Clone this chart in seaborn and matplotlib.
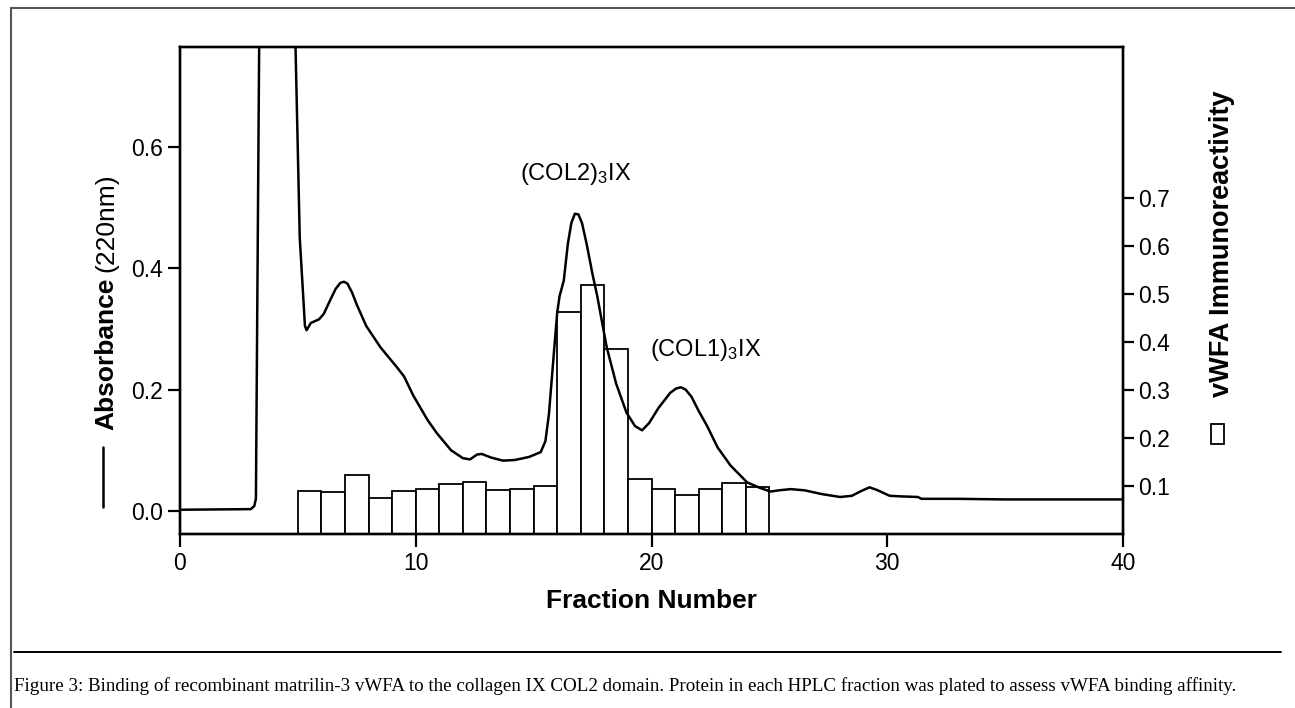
import matplotlib
matplotlib.use("Agg")
import matplotlib.pyplot as plt
import numpy as np
import pandas as pd
import seaborn as sns
from matplotlib.lines import Line2D
from matplotlib.patches import Rectangle

# Absorbance trace (220 nm) against fraction number; the void peak runs off scale
curve_fraction = [0.0, 3.0, 3.15, 3.22, 3.36, 3.45, 4.1, 4.8, 4.9, 5.08, 5.3,
                  5.37, 5.55, 5.9, 6.1, 6.4, 6.6, 6.8, 6.95, 7.1, 7.3, 7.5,
                  7.9, 8.5, 9.2, 9.5, 9.9, 10.5, 10.9, 11.5, 12.0, 12.3, 12.6,
                  12.8, 13.2, 13.7, 14.2, 14.8, 15.3, 15.5, 15.65, 15.9, 16.0,
                  16.1, 16.28, 16.45, 16.6, 16.75, 16.9, 17.05, 17.25, 17.5,
                  17.7, 18.1, 18.5, 18.94, 19.3, 19.6, 19.9, 20.3, 20.8, 21.05,
                  21.25, 21.45, 21.7, 22.0, 22.36, 22.8, 23.35, 24.06, 24.6,
                  25.05, 25.4, 25.9, 26.5, 27.2, 28.0, 28.5, 28.9, 29.25, 29.6,
                  30.1, 30.6, 31.3, 31.45, 33.0, 35.0, 40.0]
absorbance = [0.002, 0.003, 0.008, 0.02, 0.78, 0.95, 1.25, 0.95, 0.765, 0.45,
              0.305, 0.298, 0.31, 0.316, 0.325, 0.35, 0.366, 0.376, 0.378,
              0.375, 0.36, 0.34, 0.305, 0.27, 0.237, 0.222, 0.19, 0.15, 0.128,
              0.1, 0.087, 0.085, 0.093, 0.094, 0.088, 0.083, 0.084, 0.089,
              0.097, 0.115, 0.16, 0.28, 0.327, 0.354, 0.38, 0.44, 0.475,
              0.49, 0.489, 0.475, 0.44, 0.39, 0.354, 0.27, 0.21, 0.162, 0.14,
              0.133, 0.145, 0.17, 0.195, 0.202, 0.204, 0.2, 0.188, 0.165,
              0.14, 0.105, 0.075, 0.047, 0.038, 0.032, 0.034, 0.036, 0.034,
              0.028, 0.023, 0.025, 0.033, 0.039, 0.034, 0.025, 0.024, 0.023,
              0.02, 0.02, 0.019, 0.019]

# vWFA immunoreactivity of each plated HPLC fraction (bar centres)
bar_fraction = [5.5, 6.5, 7.5, 8.5, 9.5, 10.5, 11.5, 12.5, 13.5, 14.5,
                15.5, 16.5, 17.5, 18.5, 19.5, 20.5, 21.5, 22.5, 23.5, 24.5]
vwfa = [0.090, 0.087, 0.124, 0.075, 0.090, 0.093, 0.104, 0.108, 0.092, 0.093,
        0.100, 0.462, 0.519, 0.385, 0.115, 0.093, 0.081, 0.094, 0.106, 0.097]

x_ticks = [0, 10, 20, 30, 40]
left_ticks = [0.0, 0.2, 0.4, 0.6]
right_ticks = [0.1, 0.2, 0.3, 0.4, 0.5, 0.6, 0.7]

caption = ("Figure 3: Binding of recombinant matrilin-3 vWFA to the collagen IX "
           "COL2 domain. Protein in each HPLC fraction was plated to assess "
           "vWFA binding affinity.")

sns.set_style("ticks")
plt.rcParams["font.family"] = ["Liberation Sans", "DejaVu Sans"]
plt.rcParams["mathtext.fontset"] = "custom"
plt.rcParams["mathtext.rm"] = "Liberation Sans"
plt.rcParams["mathtext.it"] = "Liberation Sans:italic"
plt.rcParams["mathtext.bf"] = "Liberation Sans:bold"
for key in ("text.color", "axes.labelcolor", "xtick.color", "ytick.color",
            "axes.edgecolor"):
    plt.rcParams[key] = "black"

W, H = 1295, 708
fig = plt.figure(figsize=(W / 100, H / 100), dpi=100)
fig.patch.set_facecolor("white")

ax = fig.add_axes([180 / W, 1 - 534 / H, 943 / W, 487 / H])
ax2 = ax.twinx()

# bars on the right-hand axis
bars_df = pd.DataFrame({"fraction": bar_fraction, "vwfa": vwfa})
sns.barplot(data=bars_df, x="fraction", y="vwfa", native_scale=True, width=1,
            color="white", saturation=1, edgecolor="black", linewidth=1.3,
            errorbar=None, ax=ax2)

# absorbance curve on the left-hand axis, drawn above the bars
curve_df = pd.DataFrame({"fraction": curve_fraction, "absorbance": absorbance})
sns.lineplot(data=curve_df, x="fraction", y="absorbance", estimator=None,
             sort=False, color="black", linewidth=1.8, ax=ax)
ax.set_zorder(ax2.get_zorder() + 1)
ax.patch.set_visible(False)

ax.set_xlim(0, 40)
ax.set_ylim(-0.038, 0.765)
ax2.set_ylim(0, 1.015)
ax.set_xticks(x_ticks)
ax.set_xticklabels([str(t) for t in x_ticks])
ax.set_yticks(left_ticks)
ax.set_yticklabels([f"{t:.1f}" for t in left_ticks])
ax2.set_yticks(right_ticks)
ax2.set_yticklabels([f"{t:.1f}" for t in right_ticks])
for a in (ax, ax2):
    a.set_xlabel("")
    a.set_ylabel("")
    for s in a.spines.values():
        s.set_visible(True)
        s.set_linewidth(1.7)
        s.set_color("black")
ax.tick_params(axis="both", direction="out", length=9, width=1.6,
               labelsize=16.5, colors="black", pad=3)
ax.tick_params(axis="x", pad=4)
ax2.tick_params(axis="y", direction="out", length=8, width=1.6,
                labelsize=16.5, colors="black", pad=3)

# peak annotations
ax.text(16.8, 0.546, r"(COL2)$_3$IX", ha="center", va="baseline", fontsize=17)
ax.text(22.3, 0.255, r"(COL1)$_3$IX", ha="center", va="baseline", fontsize=17)

# axis titles
fig.text(651.5 / W, 1 - 601 / H, "Fraction Number", ha="center", va="center",
         fontsize=19, fontweight="bold")

renderer = fig.canvas.get_renderer()
t_abs = fig.text(113 / W, 1 - 430 / H, "Absorbance", rotation=90,
                 rotation_mode="anchor", ha="left", va="baseline",
                 fontsize=19, fontweight="bold")
bb = t_abs.get_window_extent(renderer)
fig.text(113 / W, (bb.y1 + 6) / H, "(220nm)", rotation=90,
         rotation_mode="anchor", ha="left", va="baseline", fontsize=19)
fig.add_artist(Line2D([103 / W, 103 / W], [1 - 507 / H, 1 - 447 / H],
                      color="black", lw=1.8))

fig.text(1229 / W, 1 - 397 / H, "vWFA Immunoreactivity", rotation=90,
         rotation_mode="anchor", ha="left", va="baseline",
         fontsize=19.5, fontweight="bold")
fig.add_artist(Rectangle((1211 / W, 1 - 444 / H), 13 / W, 20 / H,
                         transform=fig.transFigure, facecolor="white",
                         edgecolor="black", lw=1.3))

# page frame, rule and caption
fig.add_artist(Line2D([11 / W, 11 / W], [0, 1 - 8 / H], color="#555555", lw=1.5))
fig.add_artist(Line2D([11 / W, 1], [1 - 8 / H, 1 - 8 / H], color="#555555", lw=1.5))
fig.add_artist(Line2D([14 / W, 1281 / W], [1 - 652 / H, 1 - 652 / H],
                      color="black", lw=1.4))
fig.text(14 / W, 1 - 686 / H, caption, ha="left", va="center", fontsize=13.7,
         family=["Liberation Serif", "DejaVu Serif"])

fig.savefig("out.png", dpi=100, facecolor="white")
